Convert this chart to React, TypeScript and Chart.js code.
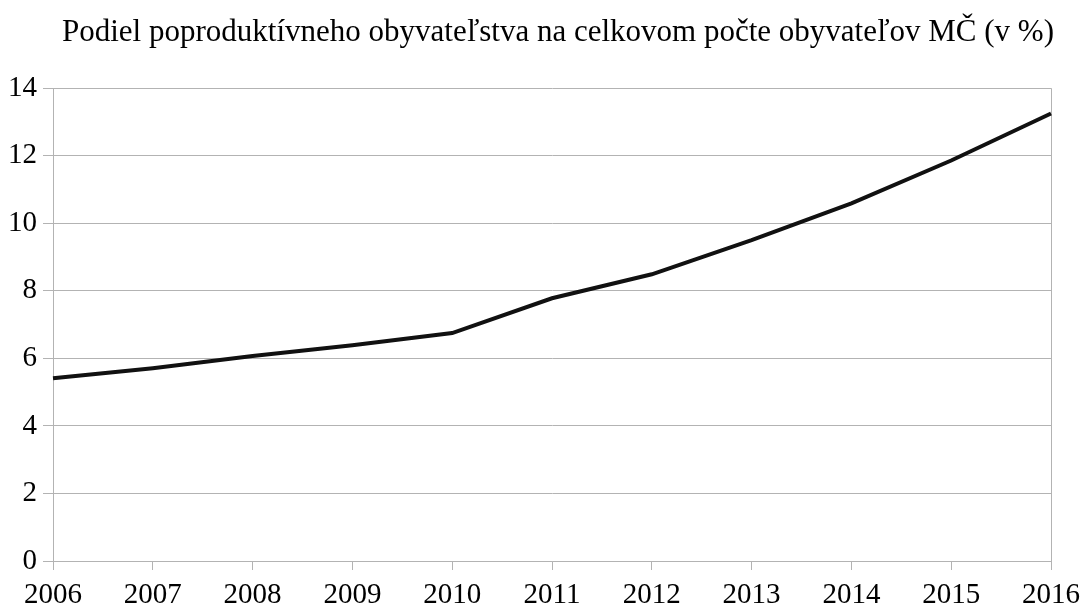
import React, { useEffect, useRef } from "react";
import { Chart, registerables } from "chart.js";

Chart.register(...registerables);

const years = ["2006", "2007", "2008", "2009", "2010", "2011", "2012", "2013", "2014", "2015", "2016"];
const shares = [5.41, 5.71, 6.07, 6.39, 6.75, 7.78, 8.49, 9.5, 10.59, 11.86, 13.25];
const titleText = "Podiel poproduktívneho obyvateľstva na celkovom počte obyvateľov MČ (v %)";

const GRID = "#b3b3b3";
const FONT = "'Liberation Serif', 'Times New Roman', serif";

const shiftTitle = {
  id: "shiftTitle",
  afterLayout(chart: any) {
    const t = chart.titleBlock;
    if (t) {
      t.left = 44;
      t.right = 1072;
      t.width = t.right - t.left;
    }
  },
};

export default function App() {
  const ref = useRef<HTMLCanvasElement | null>(null);
  useEffect(() => {
    if (!ref.current) return;
    const chart = new Chart(ref.current, {
      type: "line",
      data: {
        labels: years,
        datasets: [
          {
            data: shares,
            borderColor: "#111111",
            borderWidth: 4,
            pointRadius: 0,
            tension: 0,
            fill: false,
          },
        ],
      },
      plugins: [shiftTitle],
      options: {
        animation: false,
        responsive: true,
        maintainAspectRatio: false,
        layout: { padding: { left: 0, right: 36, top: 0, bottom: 0 } },
        plugins: {
          legend: { display: false },
          tooltip: { enabled: false },
          title: {
            display: true,
            text: titleText,
            color: "#000",
            font: { family: FONT, size: 31, weight: "normal", lineHeight: 1.2 },
            padding: { top: 14, bottom: 37 },
          },
        },
        scales: {
          x: {
            offset: false,
            grid: {
              display: true,
              drawOnChartArea: true,
              color: (ctx: any) => (ctx.index === years.length - 1 ? GRID : "rgba(0,0,0,0)"),
              tickColor: GRID,
              tickLength: 9,
              lineWidth: 1,
            },
            border: { display: true, color: GRID },
            ticks: {
              color: "#000",
              font: { family: FONT, size: 29 },
              padding: 8,
              maxRotation: 0,
              autoSkip: false,
            },
            afterFit: (s: any) => {
              s.height = 47;
            },
          },
          y: {
            min: 0,
            max: 14,
            grid: { color: GRID, tickColor: GRID, tickLength: 10, lineWidth: 1 },
            border: { display: true, color: GRID },
            ticks: {
              stepSize: 2,
              color: "#000",
              font: { family: FONT, size: 29 },
              padding: 6,
            },
            afterFit: (s: any) => {
              s.width = 53;
            },
          },
        },
      },
    });
    return () => chart.destroy();
  }, []);
  return (
    <div style={{ position: "absolute", left: 0, top: 0, width: 1088, height: 608, background: "#fff" }}>
      <canvas ref={ref} />
    </div>
  );
}
